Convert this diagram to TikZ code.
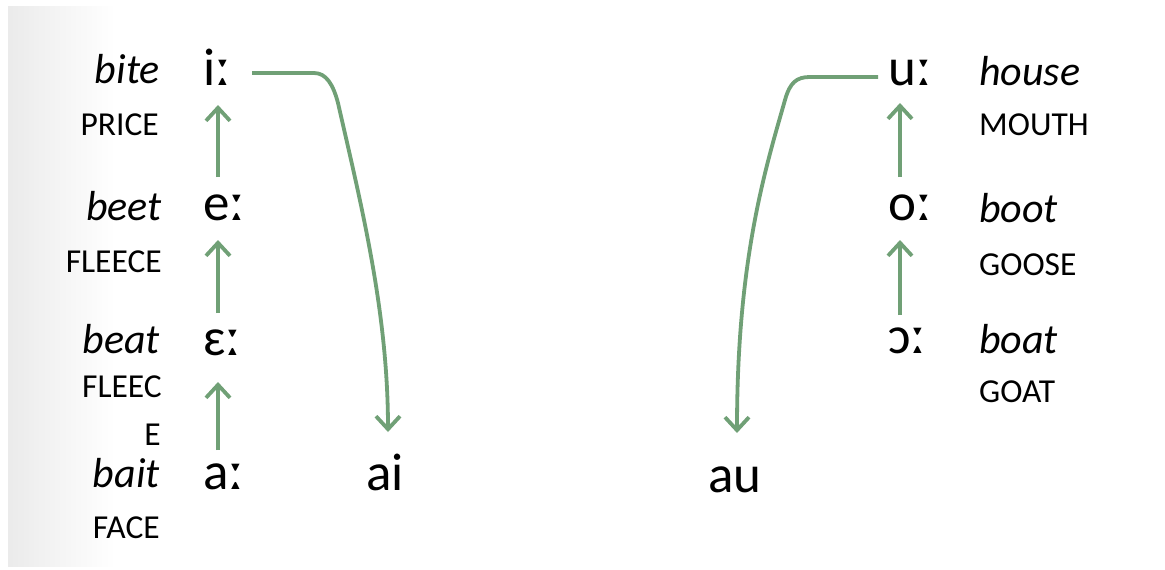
\documentclass[tikz,border=0pt]{standalone}
\usepackage{fontspec}
\setmainfont{Carlito}
\usetikzlibrary{arrows.meta,calc}
\definecolor{arrgreen}{RGB}{112,160,118}
\tikzset{
  word/.style={inner sep=0pt, font=\fontsize{42}{46}\selectfont\itshape},
  lex/.style={inner sep=0pt, font=\fontsize{33.5}{36}\selectfont},
  ipa/.style={inner sep=0pt, font=\fontsize{53}{58}\selectfont},
  shiftarrow/.style={draw=arrgreen, line width=3.8pt, -{Straight Barb[length=13pt,width=24pt,line width=3.8pt]}},
}
\begin{document}
\begin{tikzpicture}[x=1pt,y=-1pt]
\useasboundingbox (0,0) rectangle (1165,570);
\fill[white] (0,0) rectangle (1165,570);
\shade[left color=black!8, right color=white] (8,6) rectangle (115,566);

% left column words
\node[word, anchor=base east] (bite) at (160,83) {bite};
\node[lex, anchor=base east] (price) at (159,135) {PRICE};
\node[word, anchor=base east] (beet) at (162,220) {beet};
\node[lex, anchor=base east] (fleece) at (162,272) {FLEECE};
\node[word, anchor=base east] (beat) at (160,353) {beat};
\node[lex, anchor=base east] (fleec) at (162,397) {FLEEC};
\node[lex, anchor=base east] (fe) at (161,445) {E};
\node[word, anchor=base east] (bait) at (160,487) {bait};
\node[lex, anchor=base east] (face) at (160,538) {FACE};

% left vowels
\node[ipa, anchor=base west] (ii) at (203,85) {iː};
\node[ipa, anchor=base west] (ee) at (203,220) {eː};
\node[ipa, anchor=base west] (eps) at (203,355) {ɛː};
\node[ipa, anchor=base west] (aa) at (203,489) {aː};
\node[ipa, anchor=base west] (ai) at (366,490) {ai};

% right vowels
\node[ipa, anchor=base west] (uu) at (888,85) {uː};
\node[ipa, anchor=base west] (oo) at (888,220) {oː};
\node[ipa, anchor=base west] (oc) at (888,353) {ɔː};
\node[ipa, anchor=base west] (au) at (708,492) {au};

% right words
\node[word, anchor=base west] (house) at (979,85) {house};
\node[lex, anchor=base west] (mouth) at (979,135) {MOUTH};
\node[word, anchor=base west] (boot) at (979,222) {boot};
\node[lex, anchor=base west] (goose) at (979,275) {GOOSE};
\node[word, anchor=base west] (boat) at (979,353) {boat};
\node[lex, anchor=base west] (goat) at (979,402) {GOAT};

% vertical shifts left
\draw[shiftarrow] ($(ee.base west)+(15,-43)$) -- ($(ii.base west)+(15,20)$);
\draw[shiftarrow] ($(eps.base west)+(15,-42)$) -- ($(ee.base west)+(15,20)$);
\draw[shiftarrow] ($(aa.base west)+(15,-39)$) -- ($(eps.base west)+(15,27)$);
% vertical shifts right
\draw[shiftarrow] ($(oo.base west)+(12,-43)$) -- ($(uu.base west)+(12,18)$);
\draw[shiftarrow] ($(oc.base west)+(12,-38)$) -- ($(oo.base west)+(12,20)$);

% diphthongisation curves
\draw[shiftarrow] ($(ii.base west)+(49,-12)$) -- (314,73) .. controls (326,73) and (333,84) .. (338,103)
  .. controls (360,200) and (388,310) .. ($(ai.base west)+(22,-58)$);
\draw[shiftarrow] ($(uu.base west)+(-10,-8)$) -- (810,77) .. controls (797,77) and (790,82) .. (785,100)
  .. controls (765,170) and (737,260) .. ($(au.base west)+(29,-59)$);
\end{tikzpicture}
\end{document}
